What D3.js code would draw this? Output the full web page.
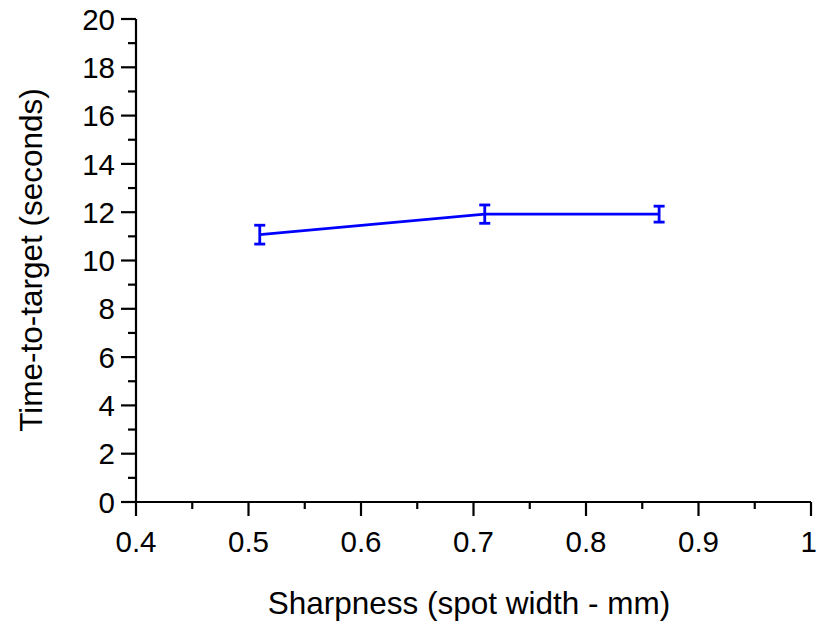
<!DOCTYPE html>
<html>
<head>
<meta charset="utf-8">
<script src="https://cdn.jsdelivr.net/npm/d3@7"></script>
<style>
  html, body { margin: 0; padding: 0; background: #fff; }
  svg { display: block; }
  text { font-family: "Liberation Sans", Arial, sans-serif; fill: #000; }
</style>
</head>
<body>
<svg id="chart" width="817" height="627"></svg>
<script>
// ---- data ----
const sharpness = [0.51, 0.71, 0.865];
const timeToTarget = [11.07, 11.92, 11.92];
const errors = [0.39, 0.38, 0.33];
const xTicks = [0.4, 0.5, 0.6, 0.7, 0.8, 0.9, 1];
const yTicks = [0, 2, 4, 6, 8, 10, 12, 14, 16, 18, 20];
const xLabel = "Sharpness (spot width - mm)";
const yLabel = "Time-to-target (seconds)";

const svg = d3.select("#chart");
const mLeft = 136, mRight = 811, mTop = 19, mBottom = 502;

const x = d3.scaleLinear().domain([0.4, 1]).range([mLeft, mRight]);
const y = d3.scaleLinear().domain([0, 20]).range([mBottom, mTop]);

const tickFont = 29.5, titleFont = 31.5;

// minor ticks
const xMinor = d3.range(0, 6).map(i => 0.45 + i * 0.1);
const yMinor = d3.range(0, 10).map(i => 1 + i * 2);

const gx = svg.append("g").attr("transform", `translate(0,${mBottom})`);
gx.append("line").attr("x1", mLeft).attr("x2", mRight).attr("stroke", "#000").attr("stroke-width", 2.2);
gx.selectAll(".maj").data(xTicks).enter().append("line")
  .attr("x1", d => x(d)).attr("x2", d => x(d)).attr("y1", 0).attr("y2", 14)
  .attr("stroke", "#000").attr("stroke-width", 2.2);
gx.selectAll(".min").data(xMinor).enter().append("line")
  .attr("x1", d => x(d)).attr("x2", d => x(d)).attr("y1", 0).attr("y2", 7)
  .attr("stroke", "#000").attr("stroke-width", 2.2);
gx.selectAll(".lbl").data(xTicks).enter().append("text")
  .attr("x", (d, i) => i === xTicks.length - 1 ? 817 : x(d)).attr("y", 50)
  .attr("text-anchor", (d, i) => i === xTicks.length - 1 ? "end" : "middle")
  .attr("font-size", tickFont).text(d => d3.format("")(d));

const gy = svg.append("g").attr("transform", `translate(${mLeft},0)`);
gy.append("line").attr("y1", mTop).attr("y2", mBottom).attr("stroke", "#000").attr("stroke-width", 2.2);
gy.selectAll(".maj").data(yTicks).enter().append("line")
  .attr("y1", d => y(d)).attr("y2", d => y(d)).attr("x1", 0).attr("x2", -15)
  .attr("stroke", "#000").attr("stroke-width", 2.2);
gy.selectAll(".min").data(yMinor).enter().append("line")
  .attr("y1", d => y(d)).attr("y2", d => y(d)).attr("x1", 0).attr("x2", -8)
  .attr("stroke", "#000").attr("stroke-width", 2.2);
gy.selectAll(".lbl").data(yTicks).enter().append("text")
  .attr("x", -21).attr("y", d => y(d)).attr("dy", "0.36em").attr("text-anchor", "end")
  .attr("font-size", tickFont).text(d => d);

// titles
svg.append("text").attr("x", 469).attr("y", 614)
  .attr("text-anchor", "middle").attr("font-size", titleFont).text(xLabel);
svg.append("text").attr("transform", `translate(42,260) rotate(-90)`)
  .attr("text-anchor", "middle").attr("font-size", titleFont).text(yLabel);

// data
const pts = sharpness.map((s, i) => ({ s, t: timeToTarget[i], e: errors[i] }));
const blue = "#0000ff";
svg.append("path").datum(pts)
  .attr("d", d3.line().x(d => x(d.s)).y(d => y(d.t)))
  .attr("fill", "none").attr("stroke", blue).attr("stroke-width", 2.6);
const eb = svg.append("g").attr("stroke", blue);
pts.forEach(d => {
  eb.append("line").attr("x1", x(d.s)).attr("x2", x(d.s)).attr("y1", y(d.t - d.e)).attr("y2", y(d.t + d.e)).attr("stroke-width", 2.8);
  [d.t - d.e, d.t + d.e].forEach(v => {
    eb.append("line").attr("x1", x(d.s) - 5.5).attr("x2", x(d.s) + 5.5).attr("y1", y(v)).attr("y2", y(v)).attr("stroke-width", 2.8);
  });
});
</script>
</body>
</html>
